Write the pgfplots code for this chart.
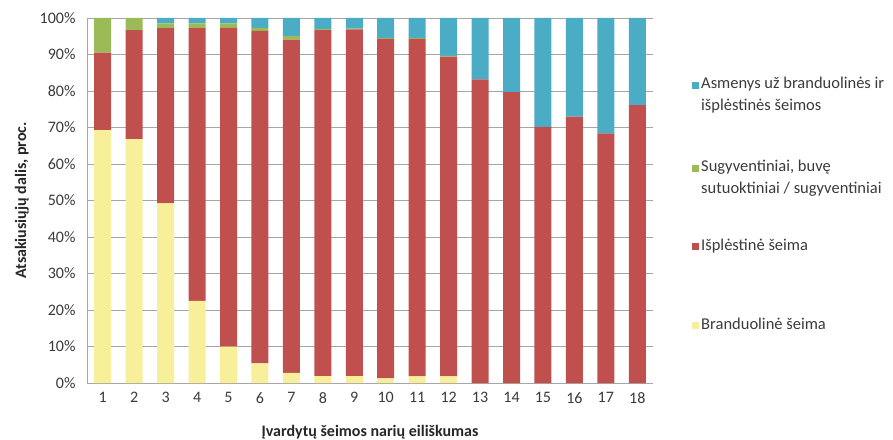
\documentclass[border=0pt]{standalone}
\usepackage{pgfplots}
\pgfplotsset{compat=1.18}
\usepackage{pgfplotstable}
\usepackage{fontspec}
\setmainfont{Carlito}

\definecolor{cYellow}{HTML}{F8EF9B}
\definecolor{cRed}{HTML}{C0504D}
\definecolor{cGreen}{HTML}{9BBB59}
\definecolor{cBlue}{HTML}{4BACC6}
\definecolor{cGrid}{HTML}{A6A6A6}
\definecolor{cText}{HTML}{3A3A3A}

% x  branduoline  isplestine  sugyventiniai  asmenys
\pgfplotstableread{
x  br    is    su   as
1  69.3  21.2  9.5  0
2  66.8  29.9  3.3  0
3  49.2  48.0  1.3  1.5
4  22.5  74.7  1.3  1.5
5  10.0  87.3  1.2  1.5
6  5.4   91.1  0.8  2.7
7  2.8   91.3  1.0  4.9
8  1.9   94.8  0.3  3.0
9  1.9   95.0  0.2  2.9
10 1.3   93.0  0.2  5.5
11 1.8   92.5  0.2  5.5
12 1.8   87.6  0.2  10.4
13 0     83.2  0    16.8
14 0     79.7  0    20.3
15 0     70.2  0    29.8
16 0     73.0  0    27.0
17 0     68.4  0    31.6
18 0     76.1  0    23.9
}\datatable

\begin{document}
\begin{tikzpicture}
\begin{axis}[
  name=ax,
  ybar stacked,
  scale only axis,
  width=566pt, height=365pt,
  xmin=0.5, xmax=18.5,
  ymin=0, ymax=100,
  bar width=17pt,
  axis x line*=bottom,
  axis y line*=left,
  axis line style={cGrid},
  major tick length=0pt,
  xtick={1,...,18},
  ytick={0,10,...,100},
  yticklabels={0\%,10\%,20\%,30\%,40\%,50\%,60\%,70\%,80\%,90\%,100\%},
  ymajorgrids,
  grid style={cGrid, line width=0.6pt},
  /pgf/number format/assume math mode=true,
  tick label style={font=\fontsize{16}{19}\selectfont, text=cText},
  yticklabel style={xshift=-8pt},
  xticklabel style={yshift=-6pt},
  xlabel={Įvardytų šeimos narių eiliškumas},
  ylabel={Atsakiusiųjų dalis, proc.},
  label style={font=\bfseries\fontsize{16}{19}\selectfont, text=black!85},
  xlabel style={at={(axis description cs:0.5,-0.134)}, anchor=center},
  ylabel style={at={(axis description cs:-0.115,0.5)}, anchor=center, rotate=0},
  reverse legend,
  legend cell align=left,
  legend image code/.code={\fill[#1] (0pt,0pt) rectangle (7pt,7pt);},
  legend style={
    at={(rel axis cs:1,1)}, anchor=north west,
    xshift=39pt, yshift=-53pt,
    draw=none, fill=none, inner sep=0pt,
    row sep=62pt,
    font=\fontsize{16.5}{22}\selectfont,
    text=cText,
    cells={anchor=base west},
  },
]
\addplot[fill=cYellow, draw=none] table[x=x, y=br] {\datatable};
\addplot[fill=cRed, draw=none] table[x=x, y=is] {\datatable};
\addplot[fill=cGreen, draw=none] table[x=x, y=su] {\datatable};
\addplot[fill=cBlue, draw=none] table[x=x, y=as] {\datatable};
\legend{Branduolinė šeima,
  Išplėstinė šeima,
  {\begin{tabular}[t]{@{}l@{}}Sugyventiniai, buvę\\sutuoktiniai / sugyventiniai\end{tabular}},
  {\begin{tabular}[t]{@{}l@{}}Asmenys už branduolinės ir\\išplėstinės šeimos\end{tabular}}}
\end{axis}
\pgfresetboundingbox
\path (ax.south west) ++(-87pt,-56pt) rectangle ++(893pt,439pt);
\end{tikzpicture}
\end{document}
